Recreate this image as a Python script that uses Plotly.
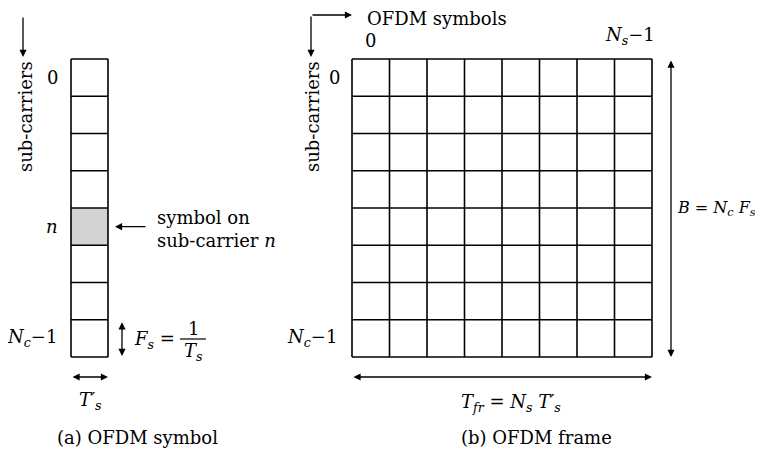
import plotly.graph_objects as go

# ---- data ----
n_subcarriers = 8          # rows (N_c)
n_symbols = 8              # columns (N_s) in the frame
highlight_row = 4          # sub-carrier n
row_labels_symbol = ["0", "<i>n</i>", "<i>N<sub>c</sub></i>−1"]
row_label_index = [0, highlight_row, n_subcarriers - 1]
col_labels_frame = ["0", "<i>N<sub>s</sub></i>−1"]
col_label_index = [0, n_symbols - 1]

# ---- layout constants (pixel space of the page) ----
W, H = 763, 452
PAD = 8  # page body margin
FONT = "DejaVu Serif"
FS = 18
top, bottom = 59.0, 357.0
cell_h = (bottom - top) / n_subcarriers
a_left, a_right = 71.0, 108.0
b_left, b_right = 352.0, 652.0
cell_w = (b_right - b_left) / n_symbols

fig = go.Figure()
shapes = []
ann = []

def line(x0, y0, x1, y1, w=1.6):
    shapes.append(dict(type="line", x0=x0, y0=y0, x1=x1, y1=y1,
                       xref="x", yref="y", line=dict(color="black", width=w)))

def text(x, y, s, xanchor="center", size=FS, angle=0):
    ann.append(dict(x=x, y=y, xref="x", yref="y", text=s, showarrow=False,
                    xanchor=xanchor, yanchor="middle", textangle=angle,
                    font=dict(family=FONT, size=size, color="black")))

def arrow(x0, y0, x1, y1, both=False):
    ann.append(dict(x=x1, y=y1, ax=x0, ay=y0, xref="x", yref="y",
                    axref="x", ayref="y", text="", showarrow=True,
                    arrowhead=2, startarrowhead=2, arrowsize=1.1,
                    startarrowsize=1.1, arrowwidth=1.3, arrowcolor="black",
                    arrowside="end+start" if both else "end",
                    font=dict(family=FONT, size=FS)))

# ---- (a) OFDM symbol column ----
y0h = top + highlight_row * cell_h
shapes.append(dict(type="rect", x0=a_left, x1=a_right, y0=y0h, y1=y0h + cell_h,
                   xref="x", yref="y", fillcolor="#d3d3d3",
                   line=dict(width=0), layer="below"))
for i in range(n_subcarriers + 1):
    y = top + i * cell_h
    line(a_left, y, a_right, y)
line(a_left, top, a_left, bottom)
line(a_right, top, a_right, bottom)

for lab, idx in zip(row_labels_symbol, row_label_index):
    yc = top + (idx + 0.5) * cell_h
    if idx == n_subcarriers - 1:
        text(59, yc, lab, xanchor="right")
    else:
        text(52, yc, lab)

arrow(23, 16, 23, 57)
text(25, 117, "sub-carriers", angle=-90)

yc_n = top + (highlight_row + 0.5) * cell_h
arrow(147, yc_n, 115, yc_n)
text(155, 217, "symbol on", xanchor="left")
text(155, 240, "sub-carrier <i>n</i>", xanchor="left")

# F_s = 1/T_s
arrow(122, bottom - cell_h + 1, 122, bottom - 1, both=True)
text(132, 340, "<i>F<sub>s</sub></i> =", xanchor="left")
line(180, 339, 206, 339, w=1.2)
text(193, 328, "1")
text(193, 352, "<i>T<sub>s</sub></i>")

arrow(a_left, 377, a_right, 377, both=True)
text(90, 401, "<i>T′<sub>s</sub></i>")
text(137, 437, "(a) OFDM symbol")

# ---- (b) OFDM frame grid ----
for i in range(n_subcarriers + 1):
    y = top + i * cell_h
    line(b_left, y, b_right, y)
for j in range(n_symbols + 1):
    x = b_left + j * cell_w
    line(x, top, x, bottom)

for lab, idx in zip(col_labels_frame, col_label_index):
    xc = b_left + (idx + 0.5) * cell_w
    if idx == 0:
        text(xc, 40, lab)
    else:
        text(630, 36, lab)

text(334, top + 0.5 * cell_h, "0")
text(339, top + (n_subcarriers - 0.5) * cell_h, "<i>N<sub>c</sub></i>−1", xanchor="right")

# elbow arrows
arrow(311, 15, 352, 15)
arrow(311, 15, 311, 57)
text(365, 18, "OFDM symbols", xanchor="left")
text(312, 117, "sub-carriers", angle=-90)

arrow(671, top, 671, bottom, both=True)
text(675, 208, "<i>B</i> = <i>N<sub>c</sub></i> <i>F<sub>s</sub></i>", xanchor="left", size=16)

arrow(b_left, 377, b_right, 377, both=True)
text(511, 403, "<i>T<sub>fr</sub></i> = <i>N<sub>s</sub></i> <i>T′<sub>s</sub></i>")
text(536, 437, "(b) OFDM frame")

fig.update_layout(
    width=W - PAD, height=H - PAD, margin=dict(l=0, r=0, t=0, b=0),
    paper_bgcolor="white", plot_bgcolor="white",
    font=dict(family=FONT, size=FS, color="black"),
    xaxis=dict(range=[PAD, W], visible=False, fixedrange=True),
    yaxis=dict(range=[H, PAD], visible=False, fixedrange=True),
    shapes=shapes, annotations=ann, showlegend=False,
)
fig.write_html("out.html", config={"displayModeBar": False})
